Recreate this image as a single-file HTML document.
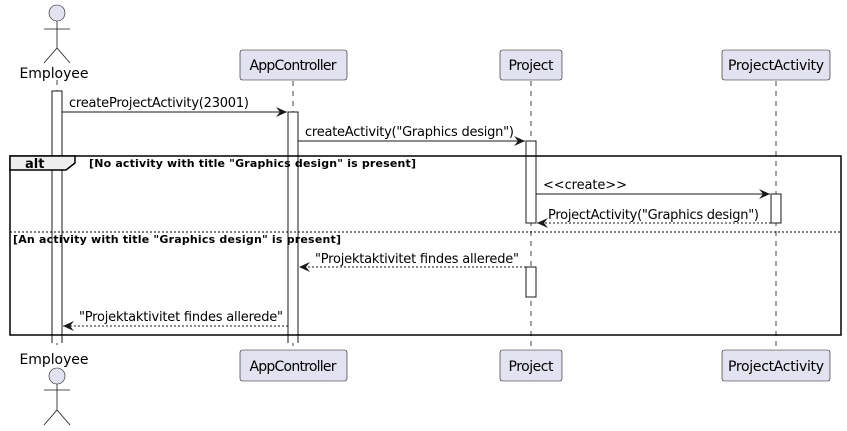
<!DOCTYPE html>
<html><head><meta charset="utf-8"><style>body{margin:0;background:#fff}svg{display:block}</style></head><body>
<svg width="847" height="431" viewBox="0 0 847 431" xmlns="http://www.w3.org/2000/svg" font-family="DejaVu Sans, Liberation Sans, sans-serif">
<defs>
<marker id="a" markerWidth="12" markerHeight="10" refX="11" refY="5" orient="auto" markerUnits="userSpaceOnUse"><path d="M0,0 L11,5 L0,10 L4,5 Z" fill="#181818"/></marker>
</defs>
<g stroke="#181818" stroke-width="0.8" stroke-dasharray="5,5">
<line x1="57" y1="80" x2="57" y2="350"/>
<line x1="293" y1="81" x2="293" y2="350"/>
<line x1="531" y1="81" x2="531" y2="350"/>
<line x1="776" y1="81" x2="776" y2="350"/>
</g>
<g fill="#fff" stroke="#181818" stroke-width="1">
<path d="M52,343 V91 H62 V343"/>
<path d="M288,343 V112 H298 V343"/>
<rect x="526" y="141" width="10" height="82"/>
<rect x="771" y="194" width="10" height="29"/>
<rect x="526" y="267" width="10" height="30"/>
</g>
<g fill="#E2E2F0" stroke="#181818" stroke-width="0.6">
<rect x="240" y="50" width="107" height="30" rx="2.5"/>
<rect x="500" y="50" width="62" height="30" rx="2.5"/>
<rect x="722" y="50" width="108" height="30" rx="2.5"/>
<rect x="240" y="350" width="107" height="31" rx="2.5"/>
<rect x="500" y="350" width="62" height="31" rx="2.5"/>
<rect x="722" y="350" width="108" height="31" rx="2.5"/>
<circle cx="57" cy="13" r="8"/>
<circle cx="57" cy="376" r="8"/>
</g>
<g stroke="#181818" stroke-width="0.8" fill="none">
<path d="M57,21 V48 M44,29 H70 M44,63 L57,48 L70,63"/>
<path d="M57,384 V410 M44,390 H70 M44,425 L57,410 L70,425"/>
</g>
<g font-size="14" fill="#000" text-anchor="middle">
<text x="54" y="78" textLength="69">Employee</text>
<text x="293" y="70" textLength="87">AppController</text>
<text x="531" y="70" textLength="45">Project</text>
<text x="776" y="70" textLength="96">ProjectActivity</text>
<text x="54" y="364" textLength="69">Employee</text>
<text x="293" y="371" textLength="87">AppController</text>
<text x="531" y="371" textLength="45">Project</text>
<text x="776" y="371" textLength="96">ProjectActivity</text>
</g>
<rect x="10" y="156" width="831" height="179" fill="none" stroke="#000" stroke-width="1.5"/>
<path d="M10,156 H75 V163 L66,170 H10 Z" fill="#EEEEEE" stroke="#000" stroke-width="1.5"/>
<line x1="10" y1="232" x2="841" y2="232" stroke="#000" stroke-width="1" stroke-dasharray="2,2"/>
<g font-size="11" font-weight="bold" fill="#000">
<text x="25" y="168" font-size="13">alt</text>
<text x="89" y="167" textLength="327">[No activity with title "Graphics design" is present]</text>
<text x="13" y="243" textLength="328">[An activity with title "Graphics design" is present]</text>
</g>
<g stroke="#181818" stroke-width="1" fill="none">
<line x1="62" y1="112" x2="287" y2="112" marker-end="url(#a)"/>
<line x1="298" y1="141" x2="525" y2="141" marker-end="url(#a)"/>
<line x1="536" y1="194" x2="770" y2="194" marker-end="url(#a)"/>
<line x1="771" y1="223" x2="537" y2="223" stroke-dasharray="2,2" marker-end="url(#a)"/>
<line x1="526" y1="267" x2="299" y2="267" stroke-dasharray="2,2" marker-end="url(#a)"/>
<line x1="288" y1="326" x2="63" y2="326" stroke-dasharray="2,2" marker-end="url(#a)"/>
</g>
<g font-size="13" fill="#000">
<text x="69" y="107" textLength="180">createProjectActivity(23001)</text>
<text x="305" y="136" textLength="209">createActivity("Graphics design")</text>
<text x="543" y="189" textLength="84">&lt;&lt;create&gt;&gt;</text>
<text x="548" y="219" textLength="211">ProjectActivity("Graphics design")</text>
<text x="315" y="263" textLength="204">"Projektaktivitet findes allerede"</text>
<text x="79" y="321" textLength="204">"Projektaktivitet findes allerede"</text>
</g>
</svg>
</body></html>
